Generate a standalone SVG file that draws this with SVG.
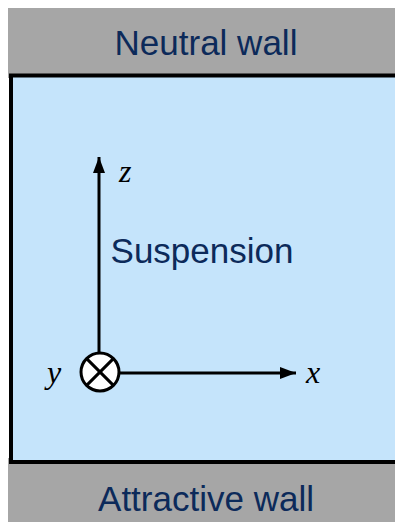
<svg xmlns="http://www.w3.org/2000/svg" width="395" height="522" viewBox="0 0 395 522">
<style>
.wall{fill:#a6a6a6}
.label{font-family:"Liberation Sans",Arial,sans-serif;font-size:35px;fill:#0c2a5a;text-anchor:middle}
.axis{stroke:#000;stroke-width:3;fill:none}
.var{font-family:"Liberation Serif","Times New Roman",serif;font-style:italic;font-size:32px;fill:#000}
</style>
<defs>
<marker id="ah" viewBox="0 0 16 12" refX="16" refY="6" markerWidth="16" markerHeight="12" markerUnits="userSpaceOnUse" orient="auto">
<path d="M0,0 L16,6 L0,12 Z" fill="#000"/>
</marker>
</defs>
<rect width="395" height="522" fill="#fff"/>
<g id="neutral-wall">
<rect class="wall" x="8" y="8" width="400" height="70"/>
<text class="label" x="206" y="55">Neutral wall</text>
</g>
<g id="attractive-wall">
<rect class="wall" x="8" y="458" width="400" height="64"/>
<text class="label" x="206" y="511">Attractive wall</text>
</g>
<g id="suspension">
<rect x="11" y="75.5" width="400" height="386.5" fill="#c5e4fb" stroke="#000" stroke-width="4"/>
<text class="label" x="202" y="263">Suspension</text>
</g>
<g id="connectors">
<line class="axis" x1="99" y1="353" x2="99" y2="157" marker-end="url(#ah)"/>
<line class="axis" x1="119" y1="373" x2="296" y2="373" marker-end="url(#ah)"/>
</g>
<g id="y-axis">
<circle cx="100" cy="372" r="19" fill="#fff" stroke="#000" stroke-width="3"/>
<line x1="86.6" y1="358.6" x2="113.4" y2="385.4" stroke="#000" stroke-width="3"/>
<line x1="113.4" y1="358.6" x2="86.6" y2="385.4" stroke="#000" stroke-width="3"/>
</g>
<text class="var" x="119" y="182">z</text>
<text class="var" x="306" y="383">x</text>
<text class="var" x="47" y="383">y</text>
</svg>
